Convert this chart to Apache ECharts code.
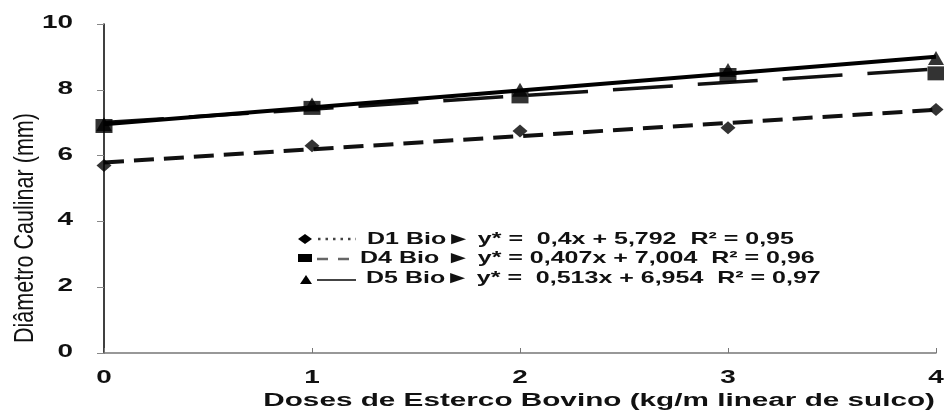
<!DOCTYPE html>
<html><head><meta charset="utf-8">
<script src="https://cdn.jsdelivr.net/npm/echarts@6/dist/echarts.min.js"></script>
<style>html,body{margin:0;padding:0;background:#fff}#c{width:944px;height:412px}</style>
</head><body><div id="c"></div>
<script>
var doses = [0, 1, 2, 3, 4];
var d1Values = [5.70, 6.30, 6.75, 6.85, 7.40];
var d4Values = [6.90, 7.45, 7.80, 8.45, 8.50];
var d5Values = [6.95, 7.55, 8.00, 8.60, 8.97];
// trend line endpoints (from the printed equations)
var d1Trend = [5.792, 7.392];
var d4Trend = [7.004, 8.632];
var d5Trend = [6.954, 9.006];
var trendX = [0, 4];
var yTicks = [0, 2, 4, 6, 8, 10];
var xTicks = [0, 1, 2, 3, 4];
var xAxisName = 'Doses de Esterco Bovino (kg/m linear de sulco)';
var yAxisName = 'Diâmetro Caulinar (mm)';
var legendTexts = [
  'D1 Bio\u25BA y* =  0,4x + 5,792  R\u00B2 = 0,95',
  'D4 Bio \u25BA y* = 0,407x + 7,004  R\u00B2 = 0,96',
  'D5 Bio\u25BA y* =  0,513x + 6,954  R\u00B2 = 0,97'
];

function pts(xs, ys){ return xs.map(function(x,i){return [x, ys[i]];}); }
var FONT = 'Liberation Sans, Arial, sans-serif';

var chart = echarts.init(document.getElementById('c'), null, {renderer:'canvas'});
chart.setOption({
  animation:false,
  grid:{left:104, right:8, top:24, bottom:59},
  xAxis:{type:'value', min:0, max:4, interval:1,
    axisLine:{lineStyle:{color:'#777', width:1.5}},
    axisTick:{inside:true, length:5, lineStyle:{color:'#777'}},
    splitLine:{show:false},
    axisLabel:{show:false}
  },
  yAxis:{type:'value', min:0, max:10, interval:2,
    axisLine:{show:true, lineStyle:{color:'#000', width:1.5}},
    axisTick:{show:true, length:7, lineStyle:{color:'#888'}},
    splitLine:{show:false},
    axisLabel:{show:false}
  },
  series:[
    {type:'line', data:pts(trendX,d1Trend), showSymbol:false, lineStyle:{color:'#111', width:4, type:[20,10]}, z:2},
    {type:'line', data:pts(trendX,d4Trend), showSymbol:false, lineStyle:{color:'#111', width:3.5, type:[60,25]}, z:2},
    {type:'scatter', data:pts(doses,d1Values), symbol:'diamond', symbolSize:[15,13], itemStyle:{color:'#000'}, clip:false, z:3},
    {type:'scatter', data:pts(doses,d4Values), symbol:'rect', symbolSize:[17,14], itemStyle:{color:'#000'}, clip:false, z:3},
    {type:'scatter', data:pts(doses,d5Values), symbol:'triangle', symbolSize:[16,14], itemStyle:{color:'#000'}, clip:false, z:4},
    {type:'line', data:pts(trendX,d5Trend), showSymbol:false, lineStyle:{color:'#000', width:4, type:'solid'}, z:5}
  ]
});

// Tick labels / names as stretched real text, positioned via the axis scales
var g = [];
yTicks.forEach(function(v){
  var p = chart.convertToPixel({gridIndex:0}, [0, v]);
  g.push({type:'text', x:73, y:p[1]-1, scaleX:1.55, style:{text:String(v), align:'right', verticalAlign:'middle', font:'bold 18px '+FONT, fill:'#111'}});
});
xTicks.forEach(function(v){
  var p = chart.convertToPixel({gridIndex:0}, [v, 0]);
  g.push({type:'text', x:p[0], y:p[1]+25, scaleX:1.55, style:{text:String(v), align:'center', verticalAlign:'middle', font:'bold 18px '+FONT, fill:'#111'}});
});
g.push({type:'text', x:935, y:401, scaleX:1.65, style:{text:xAxisName, align:'right', verticalAlign:'middle', font:'bold 18px '+FONT, fill:'#111'}});
g.push({type:'text', x:25, y:228, rotation:Math.PI/2, scaleX:0.77, style:{text:yAxisName, align:'center', verticalAlign:'middle', font:'28px '+FONT, fill:'#111'}});

// legend
g.push({type:'polygon', shape:{points:[[305,234],[312,239],[305,244],[298,239]]}, style:{fill:'#000'}});
g.push({type:'line', shape:{x1:318,y1:239,x2:356,y2:239}, style:{stroke:'#444', lineWidth:2.5, lineDash:[2.5,5]}});
g.push({type:'rect', shape:{x:298,y:254,width:14,height:8}, style:{fill:'#000'}});
g.push({type:'line', shape:{x1:317,y1:259,x2:350,y2:259}, style:{stroke:'#666', lineWidth:2.5, lineDash:[11,10]}});
g.push({type:'polygon', shape:{points:[[306,275],[312,284],[300,284]]}, style:{fill:'#000'}});
g.push({type:'line', shape:{x1:317,y1:280,x2:356,y2:280}, style:{stroke:'#444', lineWidth:2}});
var lx = [367, 360, 366], ly = [239, 258, 278];
legendTexts.forEach(function(t,i){
  g.push({type:'text', x:lx[i], y:ly[i], scaleX:1.47, style:{text:t, align:'left', verticalAlign:'middle', font:'bold 17px '+FONT, fill:'#111'}});
});
chart.setOption({graphic:g});
</script></body></html>
